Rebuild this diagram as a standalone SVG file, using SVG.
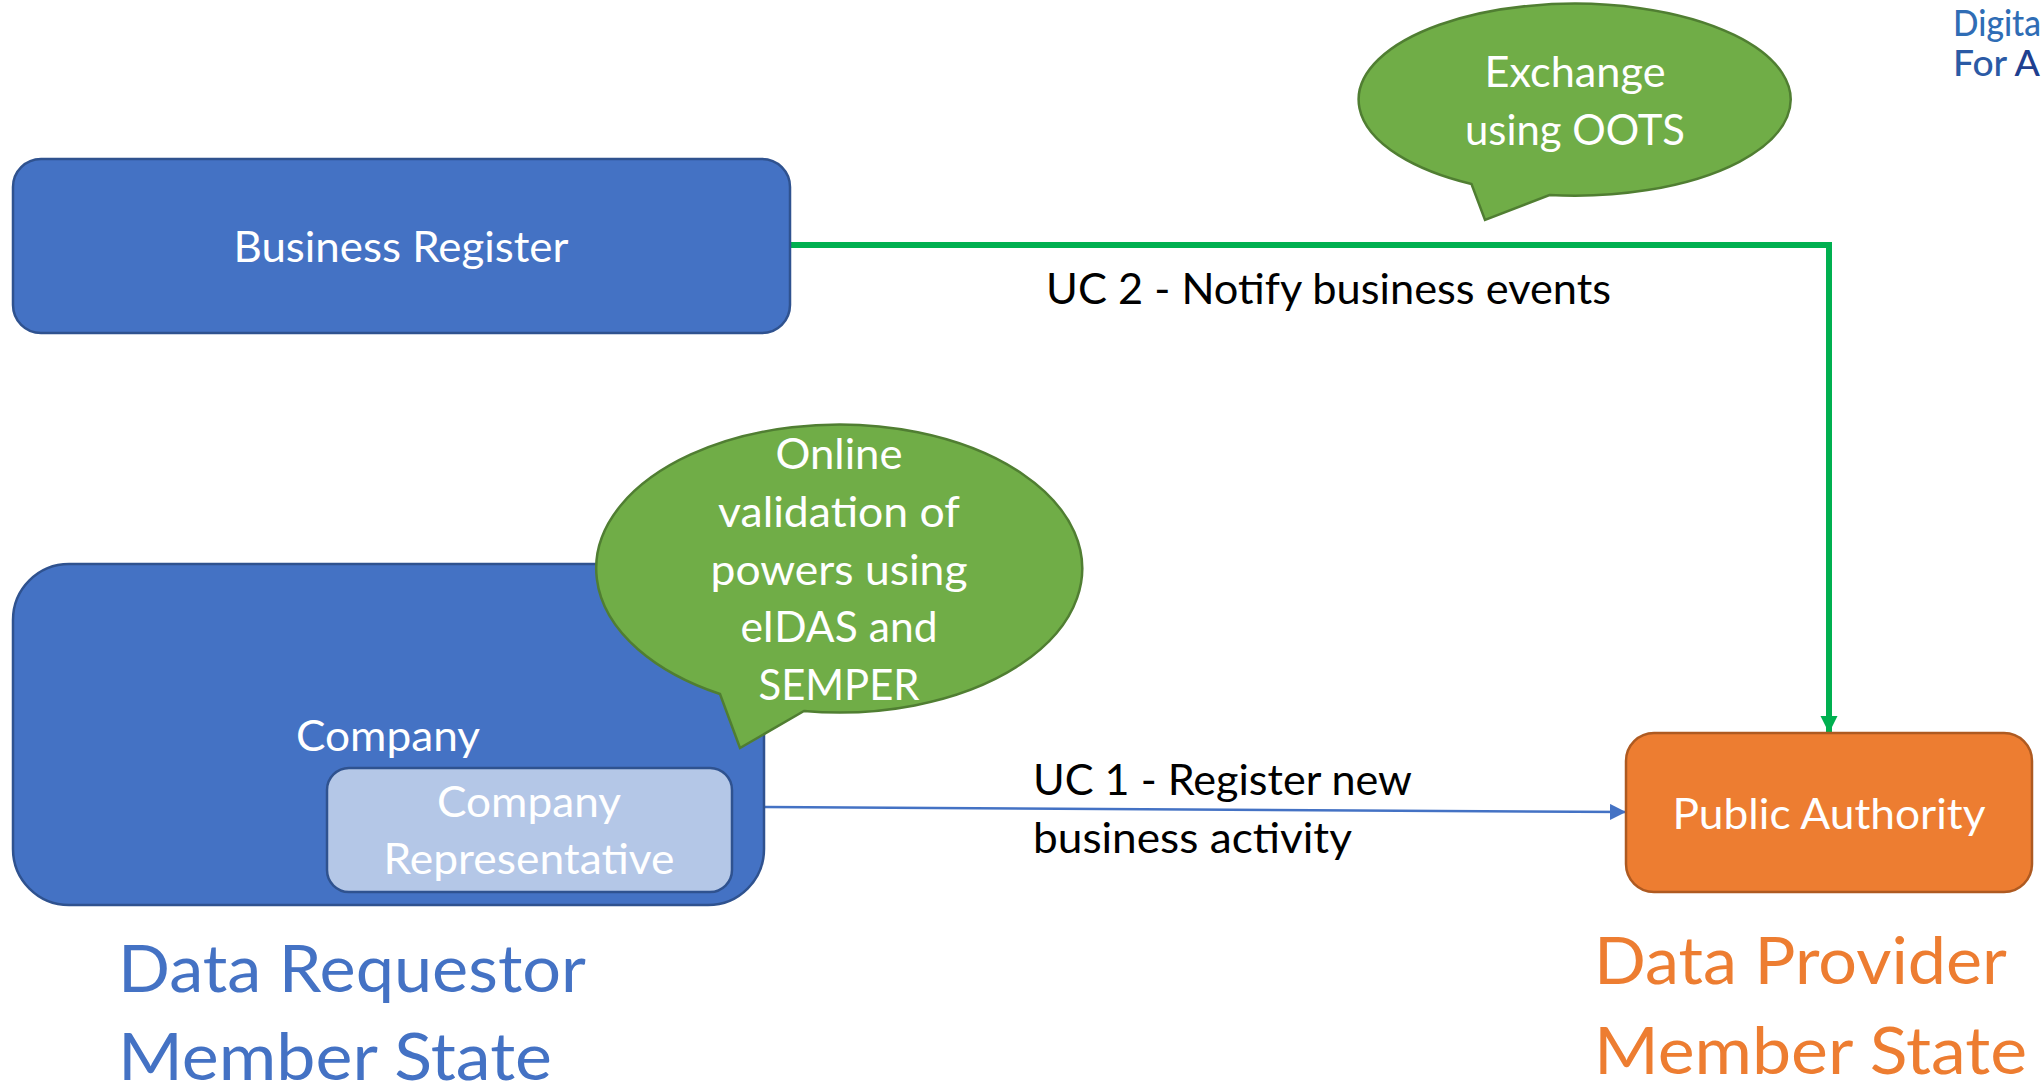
<svg xmlns="http://www.w3.org/2000/svg" width="2042" height="1086" viewBox="0 0 2042 1086">
<style>
text{font-family:"Lato","Open Sans","Liberation Sans",sans-serif;font-size:42px;fill:#fff;text-anchor:middle}
.dark{fill:#000;text-anchor:start}
.big{font-size:65px;text-anchor:start}
.box{stroke-width:2.5}
.blue{fill:#4472c4;stroke:#2f528f}
.green{fill:#70ad47;stroke:#507e32;stroke-width:2.5}
.brand{font-size:36px;font-weight:500;text-anchor:start}
</style>
<defs>
<marker id="ag" markerUnits="userSpaceOnUse" markerWidth="18" markerHeight="18" refX="17" refY="9" orient="auto"><path d="M0,0.5L17,9L0,17.500z" fill="#00b050"/></marker>
<marker id="ab" markerUnits="userSpaceOnUse" markerWidth="18" markerHeight="18" refX="16" refY="8" orient="auto"><path d="M0,0L16,8L0,16z" fill="#4472c4"/></marker>
</defs>
<rect width="2042" height="1086" fill="#fff"/>
<g id="connectors" fill="none">
<path d="M790,245H1829V733" stroke="#00b050" stroke-width="6" marker-end="url(#ag)"/>
<path d="M765,807L1626,812" stroke="#4472c4" stroke-width="2.500" marker-end="url(#ab)"/>
</g>
<g id="business-register">
<rect x="13" y="159" width="777" height="174" rx="28" class="box blue"/>
<text x="401" y="262" textLength="335" lengthAdjust="spacingAndGlyphs">Business Register</text>
</g>
<g id="company">
<rect x="13" y="564" width="751" height="341" rx="56" class="box blue"/>
<text x="388" y="751" textLength="184" lengthAdjust="spacingAndGlyphs">Company</text>
</g>
<g id="company-representative">
<rect x="327" y="768" width="405" height="124" rx="22" fill="#b4c7e7" stroke="#2f528f" stroke-width="2.500"/>
<text x="529" y="817" textLength="184" lengthAdjust="spacingAndGlyphs">Company</text>
<text x="529" y="874" textLength="291" lengthAdjust="spacingAndGlyphs">Representative</text>
</g>
<g id="callout-oots">
<path d="M1471.500,184A216,96 0 1 1 1549.500,195L1485,220z" class="green"/>
<text x="1575" y="87" textLength="181" lengthAdjust="spacingAndGlyphs">Exchange</text>
<text x="1575" y="145" textLength="220" lengthAdjust="spacingAndGlyphs">using OOTS</text>
</g>
<g id="callout-eidas">
<path d="M720,694A243,144 0 1 1 804,711L740,748z" class="green"/>
<text x="839" y="469" textLength="127" lengthAdjust="spacingAndGlyphs">Online</text>
<text x="839" y="527" textLength="242" lengthAdjust="spacingAndGlyphs">validation of</text>
<text x="839" y="585" textLength="257" lengthAdjust="spacingAndGlyphs">powers using</text>
<text x="839" y="642" textLength="197" lengthAdjust="spacingAndGlyphs">eIDAS and</text>
<text x="839" y="700" textLength="161" lengthAdjust="spacingAndGlyphs">SEMPER</text>
</g>
<g id="public-authority">
<rect x="1626" y="733" width="406" height="159" rx="28" fill="#ed7d31" stroke="#ae5a21" stroke-width="2.500"/>
<text x="1829" y="829" textLength="313" lengthAdjust="spacingAndGlyphs">Public Authority</text>
</g>
<g id="labels">
<text class="dark" x="1046" y="304" textLength="565" lengthAdjust="spacingAndGlyphs">UC 2 - Notify business events</text>
<text class="dark" x="1033" y="795" textLength="379" lengthAdjust="spacingAndGlyphs">UC 1 - Register new</text>
<text class="dark" x="1033" y="853" textLength="319" lengthAdjust="spacingAndGlyphs">business activity</text>
<text class="big" style="fill:#4472c4" x="118" y="992" textLength="468" lengthAdjust="spacingAndGlyphs">Data Requestor</text>
<text class="big" style="fill:#4472c4" x="118" y="1080" textLength="434" lengthAdjust="spacingAndGlyphs">Member State</text>
<text class="big" style="fill:#ed7d31" x="1594" y="984" textLength="413" lengthAdjust="spacingAndGlyphs">Data Provider</text>
<text class="big" style="fill:#ed7d31" x="1594" y="1074" textLength="433" lengthAdjust="spacingAndGlyphs">Member State</text>
<text class="brand" style="fill:#2f6db5" x="1953" y="36" textLength="88" lengthAdjust="spacingAndGlyphs">Digita</text>
<text class="brand" style="fill:#2b5aa5" x="1953" y="76" textLength="87" lengthAdjust="spacingAndGlyphs">For <tspan style="fill:#1f3f8f">A</tspan></text>
</g>
</svg>
